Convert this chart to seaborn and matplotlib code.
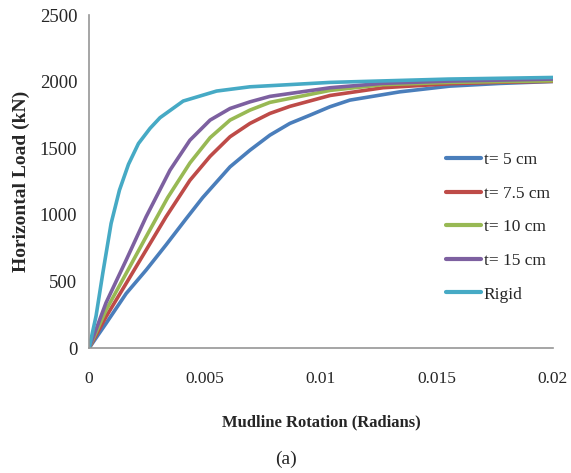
import numpy as np
import pandas as pd
import matplotlib as mpl
import matplotlib.pyplot as plt
import seaborn as sns

mpl.use('Agg')

# Data (rotation in radians, load in kN)
rot_t5 = [0, 0.00073, 0.0016, 0.00246, 0.00332, 0.00418, 0.0049, 0.00608, 0.00694,
          0.0078, 0.00866, 0.00953, 0.01039, 0.01125, 0.0134, 0.01556, 0.0177, 0.02]
load_t5 = [0, 185, 410, 586, 775, 970, 1130, 1361, 1486,
           1599, 1687, 1749, 1812, 1862, 1924, 1967, 1987, 2002]

rot_t75 = [0, 0.00073, 0.0016, 0.00246, 0.00332, 0.00435, 0.00522, 0.00608, 0.00694,
           0.0078, 0.00866, 0.0104, 0.01268, 0.01556, 0.0177, 0.02]
load_t75 = [0, 235, 486, 736, 986, 1260, 1440, 1587, 1687,
            1762, 1815, 1897, 1955, 1985, 1996, 2003]

rot_t10 = [0, 0.00073, 0.0016, 0.00246, 0.00339, 0.00435, 0.00522, 0.00608, 0.00694,
           0.0078, 0.0104, 0.01268, 0.01556, 0.0177, 0.02]
load_t10 = [0, 285, 561, 836, 1130, 1390, 1580, 1712, 1787,
            1845, 1935, 1978, 1995, 2001, 2007]

rot_t15 = [0, 0.00073, 0.0016, 0.00246, 0.00349, 0.00435, 0.00522, 0.00608,
           0.00694, 0.0078, 0.0104, 0.01268, 0.01556, 0.02]
load_t15 = [0, 340, 661, 986, 1336, 1561, 1712, 1799,
            1849, 1890, 1955, 1988, 2005, 2020]

rot_rigid = [0, 0.0003, 0.00059, 0.00095, 0.00131, 0.0017, 0.00213, 0.00263,
             0.00306, 0.00406, 0.0055, 0.00694, 0.0104, 0.0155, 0.02]
load_rigid = [0, 240, 561, 936, 1186, 1380, 1536, 1650,
              1730, 1855, 1930, 1962, 1995, 2020, 2032]

labels = ['t= 5 cm', 't= 7.5 cm', 't= 10 cm', 't= 15 cm', 'Rigid']
colors = ['#4A7EBB', '#BE4B48', '#98B954', '#7D60A0', '#46AAC5']

series = [(rot_t5, load_t5), (rot_t75, load_t75), (rot_t10, load_t10),
          (rot_t15, load_t15), (rot_rigid, load_rigid)]
frames = []
for lab, (x, y) in zip(labels, series):
    frames.append(pd.DataFrame({'rot': x, 'load': y, 'case': lab}))
df = pd.concat(frames, ignore_index=True)

sns.set_style('white')
plt.rcParams['font.family'] = ['Liberation Serif', 'DejaVu Serif']

fig = plt.figure(figsize=(5.71, 4.73), dpi=100)
ax = fig.add_axes([0.156, 0.264, 0.812, 0.704])

sns.lineplot(data=df, x='rot', y='load', hue='case', hue_order=labels,
             palette=colors, linewidth=2.6, ax=ax, sort=False)
for line in ax.get_lines():
    line.set_solid_joinstyle('round')
    line.set_solid_capstyle('round')

ax.set_xlim(0, 0.02)
ax.set_ylim(0, 2500)
ax.set_xticks([0, 0.005, 0.01, 0.015, 0.02])
ax.set_xticklabels(['0', '0.005', '0.01', '0.015', '0.02'])
ax.set_yticks(range(0, 2501, 500))
ax.tick_params(axis='both', direction='inout', length=7, width=1, color='#969696')
ax.tick_params(axis='y', labelsize=13.5, pad=5)
ax.tick_params(axis='x', labelsize=12.5, pad=13)
for side in ['top', 'right']:
    ax.spines[side].set_visible(False)
for side in ['left', 'bottom']:
    ax.spines[side].set_color('#969696')
    ax.spines[side].set_linewidth(1.2)

ax.set_xlabel('Mudline Rotation (Radians)', fontsize=12, fontweight='bold', labelpad=20)
ax.set_ylabel('Horizontal Load (kN)', fontsize=14, fontweight='bold', labelpad=7)

leg = ax.legend(loc='upper left', bbox_to_anchor=(0.737, 0.635), frameon=False,
                fontsize=12.5, handlelength=2.0, handletextpad=0.15, labelspacing=1.0)
for line in leg.get_lines():
    line.set_linewidth(3)

fig.text(0.5, 0.02, '(a)', ha='center', fontsize=14)

plt.savefig('out.png', dpi=100)
